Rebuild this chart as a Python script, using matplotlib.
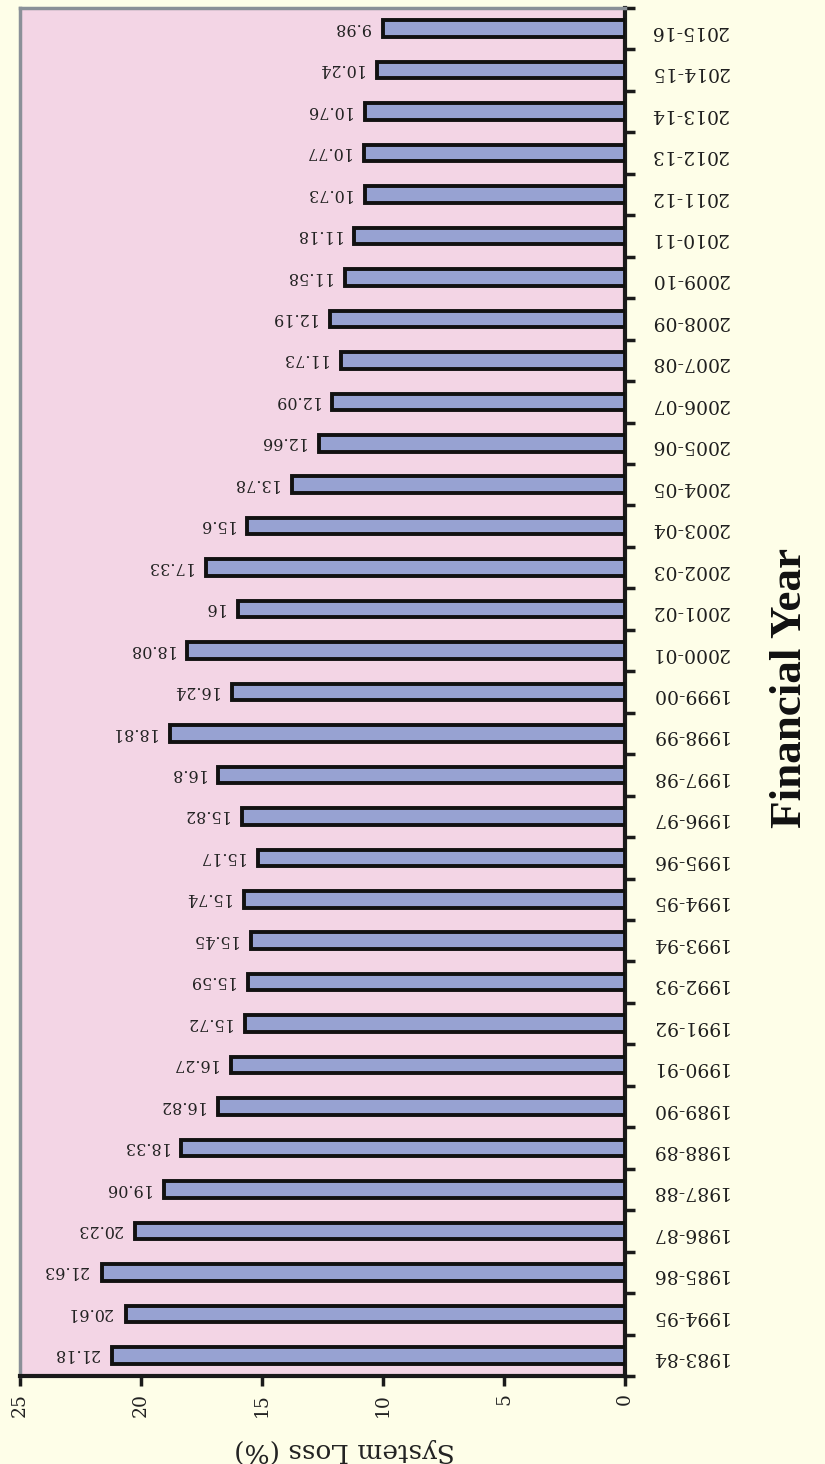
import matplotlib
matplotlib.use("Agg")
import matplotlib.pyplot as plt
import numpy as np

years = ["1983-84", "1994-95", "1985-86", "1986-87", "1987-88", "1988-89",
         "1989-90", "1990-91", "1991-92", "1992-93", "1993-94", "1994-95",
         "1995-96", "1996-97", "1997-98", "1998-99", "1999-00", "2000-01",
         "2001-02", "2002-03", "2003-04", "2004-05", "2005-06", "2006-07",
         "2007-08", "2008-09", "2009-10", "2010-11", "2011-12", "2012-13",
         "2013-14", "2014-15", "2015-16"]
loss = [21.18, 20.61, 21.63, 20.23, 19.06, 18.33, 16.82, 16.27, 15.72, 15.59,
        15.45, 15.74, 15.17, 15.82, 16.8, 18.81, 16.24, 18.08, 16, 17.33,
        15.6, 13.78, 12.66, 12.09, 11.73, 12.19, 11.58, 11.18, 10.73, 10.77,
        10.76, 10.24, 9.98]
loss_labels = ["21.18", "20.61", "21.63", "20.23", "19.06", "18.33", "16.82",
               "16.27", "15.72", "15.59", "15.45", "15.74", "15.17", "15.82",
               "16.8", "18.81", "16.24", "18.08", "16", "17.33", "15.6",
               "13.78", "12.66", "12.09", "11.73", "12.19", "11.58", "11.18",
               "10.73", "10.77", "10.76", "10.24", "9.98"]
value_ticks = [0, 5, 10, 15, 20, 25]

W, H = 825, 1464
fig = plt.figure(figsize=(W / 100, H / 100), dpi=100)
fig.patch.set_facecolor("#FEFEE8")

ax = fig.add_axes([20 / W, (H - 1376) / H, (625 - 20) / W, (1376 - 8) / H])
ax.set_facecolor("#F3D5E5")

pos = np.arange(len(years))
bars = ax.barh(pos, loss, height=0.4, color="#97A2D2", edgecolor="#111111",
               linewidth=2.8, zorder=3)

for p, v, lab in zip(pos, loss, loss_labels):
    ax.annotate(lab, xy=(v, p), xytext=(-10, 1), textcoords="offset points",
                ha="right", va="center", rotation=180, fontsize=11.5,
                family="DejaVu Serif", color="#222222")

ax.set_xlim(25, 0)
ax.set_ylim(-0.5, len(years) - 0.5)

# value axis at bottom
ax.set_xticks(value_ticks)
ax.set_xticklabels([str(t) for t in value_ticks], rotation=90,
                   family="DejaVu Serif", fontsize=13.5)
ax.tick_params(axis="x", direction="out", length=7, width=2.5, pad=5,
               colors="#1a1a1a", labelcolor="#222222")

# category axis on right
ax.yaxis.tick_right()
ax.set_yticks(np.arange(-0.5, len(years), 1.0))
ax.set_yticklabels([])
ax.set_yticks(pos, minor=True)
ax.set_yticklabels(years, minor=True, rotation=180, family="DejaVu Serif",
                   fontsize=13.5, color="#1e1e1e")
ax.tick_params(axis="y", which="major", direction="out", length=7, width=2.5,
               colors="#1a1a1a", right=True, left=False)
ax.tick_params(axis="y", which="minor", length=0, pad=18, right=True,
               left=False)

for s in ["left", "top"]:
    ax.spines[s].set_color("#8A9098")
    ax.spines[s].set_linewidth(2.5)
for s in ["right", "bottom"]:
    ax.spines[s].set_color("#1a1a1a")
    ax.spines[s].set_linewidth(3)

fig.text(345 / W, 1 - 1450 / H, "System Loss (%)", rotation=180,
         ha="center", va="center", family="DejaVu Serif", fontsize=19,
         color="#222222")
fig.text(790 / W, 1 - 688 / H, "Financial Year", rotation=90,
         ha="center", va="center", family="Liberation Serif",
         fontweight="bold", fontsize=32.5, color="#111111")

fig.savefig("out.png", dpi=100, facecolor=fig.get_facecolor())
